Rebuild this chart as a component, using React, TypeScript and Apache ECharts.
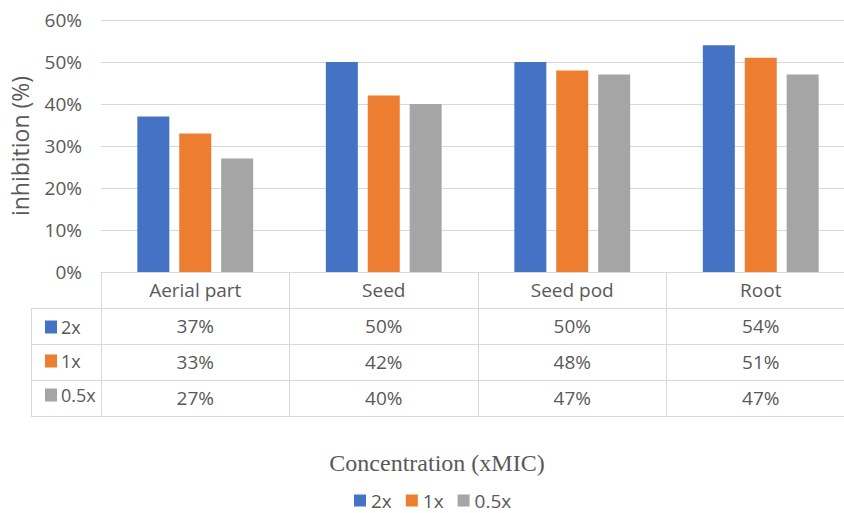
import React, { useEffect, useRef } from "react";
import * as echarts from "echarts";

const categories = ["Aerial part", "Seed", "Seed pod", "Root"];
const seriesNames = ["2x", "1x", "0.5x"];
const values2x = [37, 50, 50, 54];
const values1x = [33, 42, 48, 51];
const values05x = [27, 40, 47, 47];
const colors = ["#4472C4", "#ED7D31", "#A5A5A5"];
const yTicks = { min: 0, max: 60, interval: 10 };

const allValues = [values2x, values1x, values05x];

export default function App() {
  const ref = useRef<HTMLDivElement>(null);
  useEffect(() => {
    document.body.style.margin = "0";
    document.body.style.overflow = "hidden";
    const chart = echarts.init(ref.current!, null, { renderer: "svg" });
    const font = "Open Sans";
    const fs = 19;
    const txt = "#595959";
    const line = "#d9d9d9";
    const gridLeft = 101;
    const gridTop = 20;
    const gridHeight = 252;
    const rowH = 36;
    const axisY = gridTop + gridHeight;

    const rowAxes = allValues.map((vals, i) => ({
      type: "category",
      gridIndex: 0,
      position: "bottom",
      offset: rowH * (i + 1),
      data: vals.map((v) => v + "%"),
      axisLine: { show: false },
      axisTick: { show: false },
      splitLine: { show: false },
      axisLabel: { interval: 0, margin: 8, fontSize: fs, fontFamily: font, color: txt },
    }));

    const graphics: any[] = [];
    for (let i = 1; i <= 4; i++) {
      const y = axisY + rowH * i + 0.5;
      graphics.push({
        type: "line",
        shape: { x1: 31, y1: y, x2: 856, y2: y },
        style: { stroke: line, lineWidth: 1 },
      });
    }
    graphics.push({
      type: "line",
      shape: { x1: 31.5, y1: axisY + rowH, x2: 31.5, y2: axisY + rowH * 4 },
      style: { stroke: line, lineWidth: 1 },
    });

    chart.setOption({
      animation: false,
      color: colors,
      title: {
        text: "Concentration (xMIC)",
        left: 432,
        top: 446,
        textAlign: "center",
        textStyle: { fontFamily: "Liberation Serif", fontSize: 24, fontWeight: "normal", color: txt },
      },
      legend: [
        {
          data: seriesNames,
          orient: "horizontal",
          left: 349,
          top: 486,
          itemWidth: 12,
          itemHeight: 12,
          itemGap: 14,
          icon: "rect",
          textStyle: { fontFamily: font, fontSize: fs, color: txt },
        },
        {
          data: seriesNames,
          orient: "vertical",
          left: 40,
          top: axisY + rowH + 5,
          itemWidth: 12,
          itemHeight: 13,
          itemGap: 16,
          itemStyle: {},
          icon: "rect",
          textStyle: { fontFamily: font, fontSize: 18, color: txt, padding: [0, 0, 4, -1] },
        },
      ],
      grid: { left: gridLeft, top: gridTop, right: 0, height: gridHeight },
      xAxis: [
        {
          type: "category",
          data: categories,
          axisLine: { show: true, lineStyle: { color: line, width: 1 } },
          axisTick: { show: true, length: rowH * 4, interval: 0, lineStyle: { color: line } },
          axisLabel: { interval: 0, margin: 8, fontSize: fs, fontFamily: font, color: txt },
        },
        ...rowAxes,
      ],
      yAxis: {
        type: "value",
        min: yTicks.min,
        max: yTicks.max,
        interval: yTicks.interval,
        name: "inhibition (%)",
        nameLocation: "middle",
        nameGap: 70,
        nameTextStyle: { fontFamily: font, fontSize: 23, color: txt },
        axisLine: { show: false },
        axisTick: { show: false },
        splitLine: { lineStyle: { color: line, width: 1 } },
        axisLabel: { formatter: "{value}%", margin: 19, fontSize: fs, fontFamily: font, color: txt },
      },
      graphic: graphics,
      series: allValues.map((vals, i) => ({
        name: seriesNames[i],
        type: "bar",
        xAxisIndex: 0,
        data: vals,
        barWidth: 32,
        barGap: "31%",
        itemStyle: { color: colors[i] },
      })),
    });
    return () => chart.dispose();
  }, []);
  return (
    <div style={{ width: 844, height: 513, overflow: "hidden", position: "relative" }}>
      <div ref={ref} style={{ width: 855, height: 513 }} />
    </div>
  );
}
